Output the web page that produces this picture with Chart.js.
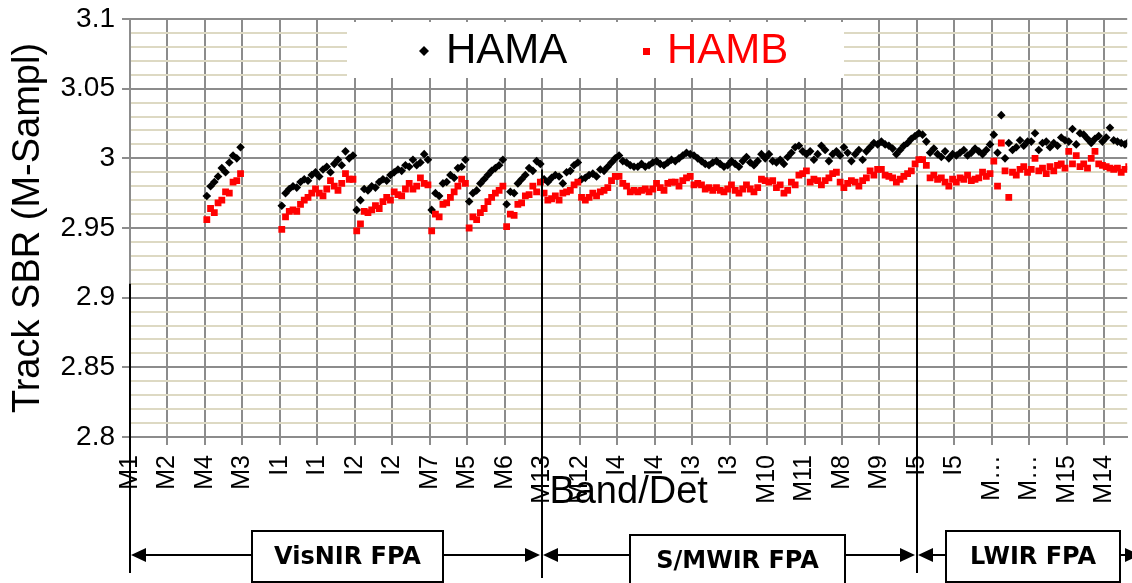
<!DOCTYPE html>
<html>
<head>
<meta charset="utf-8">
<script src="https://cdn.jsdelivr.net/npm/chart.js@4"></script>
<style>
  body { margin: 0; background: #fff; overflow: hidden; }
  #wrap { width: 1132px; height: 583px; }
</style>
</head>
<body>
<div id="wrap"><canvas id="sbr-chart" width="1132" height="583"></canvas></div>
<script>
// one label per 16-detector slot
const bandLabels = ['M1', 'M2', 'M4', 'M3', 'I1', 'I1', 'I2', 'I2', 'M7', 'M5', 'M6',
    'M13', 'M12', 'I4', 'I4', 'I3', 'I3', 'M10', 'M11', 'M8', 'M9',
    'I5', 'I5', 'M…', 'M…', 'M15', 'M14'];

// slot index where each focal plane's samples begin
const fpaStart = [2, 11, 21];
const fpaNames = ['VisNIR FPA', 'S/MWIR FPA', 'LWIR FPA'];

// VisNIR: M4, M3 (no data), I1 x2, I2 x2, M7, M5, M6
const visnirHama = [
    2.973, 2.980, 2.983, 2.987, 2.993, 2.990, 2.997, 3.002, 3.000, 3.008,
    null, null, null, null, null, null, null, null, null, null,
    2.966, 2.975, 2.978, 2.980, 2.979, 2.983, 2.985, 2.984, 2.988, 2.990,
    2.987, 2.992, 2.994, 2.990, 2.996, 2.999, 2.995, 3.005, 3.000, 3.002,
    2.963, 2.970, 2.978, 2.977, 2.980, 2.979, 2.983, 2.985, 2.984, 2.988,
    2.990, 2.992, 2.991, 2.995, 2.994, 2.999, 2.995, 2.997, 3.003, 2.999,
    2.963, 2.975, 2.973, 2.982, 2.983, 2.988, 2.986, 2.993, 2.994, 2.999,
    2.969, 2.975, 2.977, 2.982, 2.985, 2.988, 2.991, 2.993, 2.995, 2.999,
    2.967, 2.976, 2.975, 2.982, 2.985, 2.988, 2.993, 2.991, 2.998, 2.996
];
const visnirHamb = [
    2.956, 2.964, 2.961, 2.968, 2.970, 2.976, 2.975, 2.983, 2.984, 2.989,
    null, null, null, null, null, null, null, null, null, null,
    2.949, 2.958, 2.962, 2.963, 2.962, 2.967, 2.970, 2.972, 2.975, 2.978,
    2.975, 2.973, 2.978, 2.984, 2.980, 2.977, 2.982, 2.989, 2.985, 2.985,
    2.948, 2.953, 2.962, 2.961, 2.963, 2.966, 2.964, 2.969, 2.972, 2.970,
    2.976, 2.974, 2.973, 2.978, 2.982, 2.978, 2.980, 2.986, 2.982, 2.981,
    2.948, 2.960, 2.958, 2.967, 2.968, 2.972, 2.976, 2.980, 2.985, 2.982,
    2.950, 2.958, 2.956, 2.961, 2.964, 2.969, 2.972, 2.975, 2.977, 2.980,
    2.951, 2.960, 2.959, 2.967, 2.968, 2.973, 2.974, 2.980, 2.976, 2.983
];

// S/MWIR: M13, M12, I4 x2, I3 x2, M10, M11, M8, M9
const smwirHama = [
    2.985, 2.983, 2.986, 2.988, 2.987, 2.982, 2.990, 2.991, 2.995, 2.997,
    2.985, 2.986, 2.988, 2.989, 2.987, 2.992, 2.991, 2.994, 2.997, 3.000,
    3.002, 2.998, 2.997, 2.995, 2.994, 2.994, 2.996, 2.994, 2.995, 2.997,
    2.998, 2.996, 2.995, 2.997, 2.999, 2.998, 3.000, 3.002, 3.004, 3.003,
    3.002, 3.000, 2.998, 2.996, 2.995, 2.997, 2.998, 2.996, 2.994, 2.995,
    2.998, 2.996, 2.994, 2.998, 3.001, 2.997, 2.995, 2.998, 3.003, 3.000,
    3.003, 2.998, 2.997, 2.999, 2.996, 3.001, 3.004, 3.008, 3.009, 3.005,
    3.003, 3.005, 2.999, 3.003, 3.009, 3.006, 2.998, 3.003, 3.005, 3.002,
    3.008, 3.004, 2.998, 3.003, 3.006, 2.999, 3.005, 3.008, 3.011, 3.010,
    3.012, 3.010, 3.009, 3.007, 3.003, 3.006, 3.009, 3.011, 3.014, 3.016
];
const smwirHamb = [
    2.975, 2.970, 2.971, 2.973, 2.970, 2.975, 2.976, 2.977, 2.981, 2.983,
    2.972, 2.970, 2.972, 2.975, 2.973, 2.976, 2.977, 2.979, 2.984, 2.987,
    2.987, 2.982, 2.980, 2.976, 2.977, 2.976, 2.977, 2.978, 2.976, 2.978,
    2.982, 2.979, 2.977, 2.982, 2.983, 2.983, 2.980, 2.984, 2.986, 2.987,
    2.981, 2.982, 2.981, 2.978, 2.979, 2.977, 2.979, 2.977, 2.976, 2.978,
    2.981, 2.977, 2.975, 2.978, 2.981, 2.978, 2.976, 2.979, 2.985, 2.984,
    2.983, 2.984, 2.979, 2.981, 2.975, 2.977, 2.983, 2.981, 2.988, 2.989,
    2.991, 2.983, 2.985, 2.984, 2.981, 2.984, 2.986, 2.989, 2.990, 2.983,
    2.979, 2.982, 2.984, 2.983, 2.980, 2.984, 2.986, 2.991, 2.988, 2.992,
    2.992, 2.988, 2.987, 2.986, 2.983, 2.985, 2.987, 2.989, 2.991, 2.996
];

// LWIR: I5 x2, M16 A/B, M15, M14 (runs off the right edge)
const lwirHama = [
    3.018, 3.017, 3.012, 3.004, 3.007, 3.003, 3.001, 3.005, 3.000, 3.003,
    3.002, 3.004, 3.006, 3.002, 3.004, 3.007, 3.005, 3.003, 3.006, 3.010,
    3.017, 3.004, 3.031, 3.000, 3.011, 3.006, 3.008, 3.013, 3.009, 3.012,
    3.012, 3.018, 3.006, 3.011, 3.012, 3.008, 3.011, 3.009, 3.015, 3.013,
    3.012, 3.021, 3.010, 3.018, 3.017, 3.014, 3.011, 3.014, 3.016, 3.012,
    3.015, 3.022, 3.013, 3.012, 3.011, 3.010, 3.012
];
const lwirHamb = [
    2.999, 2.999, 2.995, 2.986, 2.988, 2.985, 2.986, 2.983, 2.980, 2.985,
    2.983, 2.986, 2.985, 2.988, 2.984, 2.985, 2.986, 2.990, 2.987, 2.989,
    2.998, 2.980, 3.011, 2.991, 2.972, 2.990, 2.988, 2.992, 2.994, 2.990,
    2.992, 3.000, 2.991, 2.993, 2.989, 2.994, 2.991, 2.995, 2.996, 2.993,
    3.005, 2.996, 3.002, 2.994, 2.996, 2.993, 3.000, 3.005, 2.996, 2.995,
    2.994, 2.993, 2.992, 2.993, 2.990, 2.992, 2.994
];

const GRID = '#8c8c8c';
const MINOR = '#ddd9c3';
const FONT = '"Liberation Sans", Arial, sans-serif';

// ten samples per slot, centred in their tenth
function toPoints(start, values) {
    const pts = [];
    values.forEach((v, i) => {
        if (v !== null) pts.push({ x: start + 0.05 + i * 0.1, y: v });
    });
    return pts;
}

const hamaPoints = toPoints(fpaStart[0], visnirHama)
    .concat(toPoints(fpaStart[1], smwirHama), toPoints(fpaStart[2], lwirHama));
const hambPoints = toPoints(fpaStart[0], visnirHamb)
    .concat(toPoints(fpaStart[1], smwirHamb), toPoints(fpaStart[2], lwirHamb));

function isMajor(v) {
    return Math.round(v * 100) % 5 === 0;
}

// keep the plot flush with the canvas edges
function noEdgePadding(scale) {
    scale.paddingLeft = 0;
    scale.paddingRight = 0;
    scale.paddingTop = 0;
    scale.paddingBottom = 0;
}

function drawArrowHead(ctx, tipX, y, dir) {
    ctx.beginPath();
    ctx.moveTo(tipX, y);
    ctx.lineTo(tipX - dir * 15, y - 7);
    ctx.lineTo(tipX - dir * 15, y + 7);
    ctx.closePath();
    ctx.fill();
}

const fpaMarks = {
    id: 'fpaMarks',
    beforeDatasetsDraw(chart) {
        const ctx = chart.ctx;
        ctx.save();
        ctx.fillStyle = '#fff';
        ctx.fillRect(347, 22, 497, 56);

        // HAMA entry
        ctx.fillStyle = '#000';
        ctx.beginPath();
        ctx.moveTo(424, 46);
        ctx.lineTo(429, 51);
        ctx.lineTo(424, 56);
        ctx.lineTo(419, 51);
        ctx.closePath();
        ctx.fill();
        ctx.font = '42px ' + FONT;
        ctx.textBaseline = 'alphabetic';
        ctx.fillText('HAMA', 446, 63);

        // HAMB entry
        ctx.fillStyle = '#ff0000';
        ctx.fillRect(643, 48, 7, 7);
        ctx.fillText('HAMB', 667, 63);
        ctx.restore();
    },
    afterDraw(chart) {
        const ctx = chart.ctx;
        const xs = chart.scales.x;
        const ys = chart.scales.y;
        const edges = [0, fpaStart[1], fpaStart[2], 27].map(v => Math.round(xs.getPixelForValue(v)));
        const lineTops = [2.91, 2.992, 2.981];
        const lineBottoms = [573, 578, 573];
        const boxes = [
            { left: 252, right: 443, top: 531, bottom: 582, textY: 558 },
            { left: 630, right: 845, top: 535, bottom: 590, textY: 562 },
            { left: 946, right: 1120, top: 531, bottom: 582, textY: 558 }
        ];
        const arrowY = 555;

        ctx.save();
        ctx.strokeStyle = '#000';
        ctx.fillStyle = '#000';
        ctx.lineWidth = 2;

        // focal plane boundaries
        for (let i = 0; i < 3; i++) {
            ctx.beginPath();
            ctx.moveTo(edges[i], ys.getPixelForValue(lineTops[i]));
            ctx.lineTo(edges[i], lineBottoms[i]);
            ctx.stroke();
        }

        ctx.font = 'bold 24px "DejaVu Sans", Verdana, sans-serif';
        ctx.textAlign = 'center';
        ctx.textBaseline = 'middle';
        boxes.forEach((b, i) => {
            const left = edges[i] + 1;
            const right = edges[i + 1] - 2;
            ctx.beginPath();
            ctx.moveTo(left + 12, arrowY);
            ctx.lineTo(b.left, arrowY);
            ctx.moveTo(b.right, arrowY);
            ctx.lineTo(right - 12, arrowY);
            ctx.stroke();
            drawArrowHead(ctx, left, arrowY, -1);
            drawArrowHead(ctx, right, arrowY, 1);

            ctx.fillStyle = '#fff';
            ctx.fillRect(b.left, b.top, b.right - b.left, b.bottom - b.top);
            ctx.fillStyle = '#000';
            ctx.strokeRect(b.left, b.top, b.right - b.left, b.bottom - b.top);
            ctx.fillText(fpaNames[i], (b.left + b.right) / 2, b.textY);
        });
        ctx.restore();
    }
};

new Chart(document.getElementById('sbr-chart'), {
    type: 'scatter',
    data: {
        datasets: [
            {
                label: 'HAMA',
                data: hamaPoints,
                pointStyle: 'rectRot',
                pointRadius: 4.3,
                pointBorderWidth: 0,
                backgroundColor: '#000',
                borderColor: '#000',
                order: 1
            },
            {
                label: 'HAMB',
                data: hambPoints,
                pointStyle: 'rect',
                pointRadius: 4.8,
                pointBorderWidth: 0,
                backgroundColor: '#ff0000',
                borderColor: '#ff0000',
                order: 0
            }
        ]
    },
    options: {
        responsive: false,
        animation: false,
        devicePixelRatio: 1,
        layout: { padding: { top: 19, right: 0, bottom: 0, left: 0 } },
        plugins: {
            legend: { display: false },
            tooltip: { enabled: false }
        },
        scales: {
            x: {
                type: 'linear',
                min: 0,
                max: 26.61,
                afterBuildTicks(scale) {
                    scale.ticks = bandLabels.map((_, i) => ({ value: i }));
                },
                afterFit(scale) {
                    scale.height = 146;
                    noEdgePadding(scale);
                },
                ticks: {
                    autoSkip: false,
                    maxRotation: 90,
                    minRotation: 90,
                    padding: 10,
                    color: '#000',
                    font: { family: FONT, size: 25 },
                    callback: v => bandLabels[Math.round(v)]
                },
                grid: { color: GRID, lineWidth: 2, tickLength: 8 },
                border: { color: GRID, width: 2 },
                title: {
                    display: true,
                    text: 'Band/Det',
                    color: '#000',
                    font: { family: FONT, size: 38 },
                    padding: { top: 0, bottom: 68 }
                }
            },
            y: {
                min: 2.8,
                max: 3.1,
                afterBuildTicks(scale) {
                    const t = [];
                    for (let k = 280; k <= 310; k++) t.push({ value: k / 100 });
                    scale.ticks = t;
                },
                afterFit(scale) {
                    scale.width = 130;
                    noEdgePadding(scale);
                },
                ticks: {
                    autoSkip: false,
                    padding: 7,
                    color: '#000',
                    font: { family: FONT, size: 28 },
                    callback: v => isMajor(v) ? String(Math.round(v * 100) / 100) : ''
                },
                grid: {
                    color: ctx => isMajor(ctx.tick.value) ? GRID : MINOR,
                    tickColor: ctx => isMajor(ctx.tick.value) ? GRID : 'rgba(0,0,0,0)',
                    lineWidth: 2,
                    tickLength: 8
                },
                border: { color: GRID, width: 2 },
                title: {
                    display: true,
                    text: 'Track SBR (M-Sampl)',
                    color: '#000',
                    font: { family: FONT, size: 38 },
                    padding: { top: 6, bottom: 0 }
                }
            }
        }
    },
    plugins: [fpaMarks]
});
</script>
</body>
</html>
